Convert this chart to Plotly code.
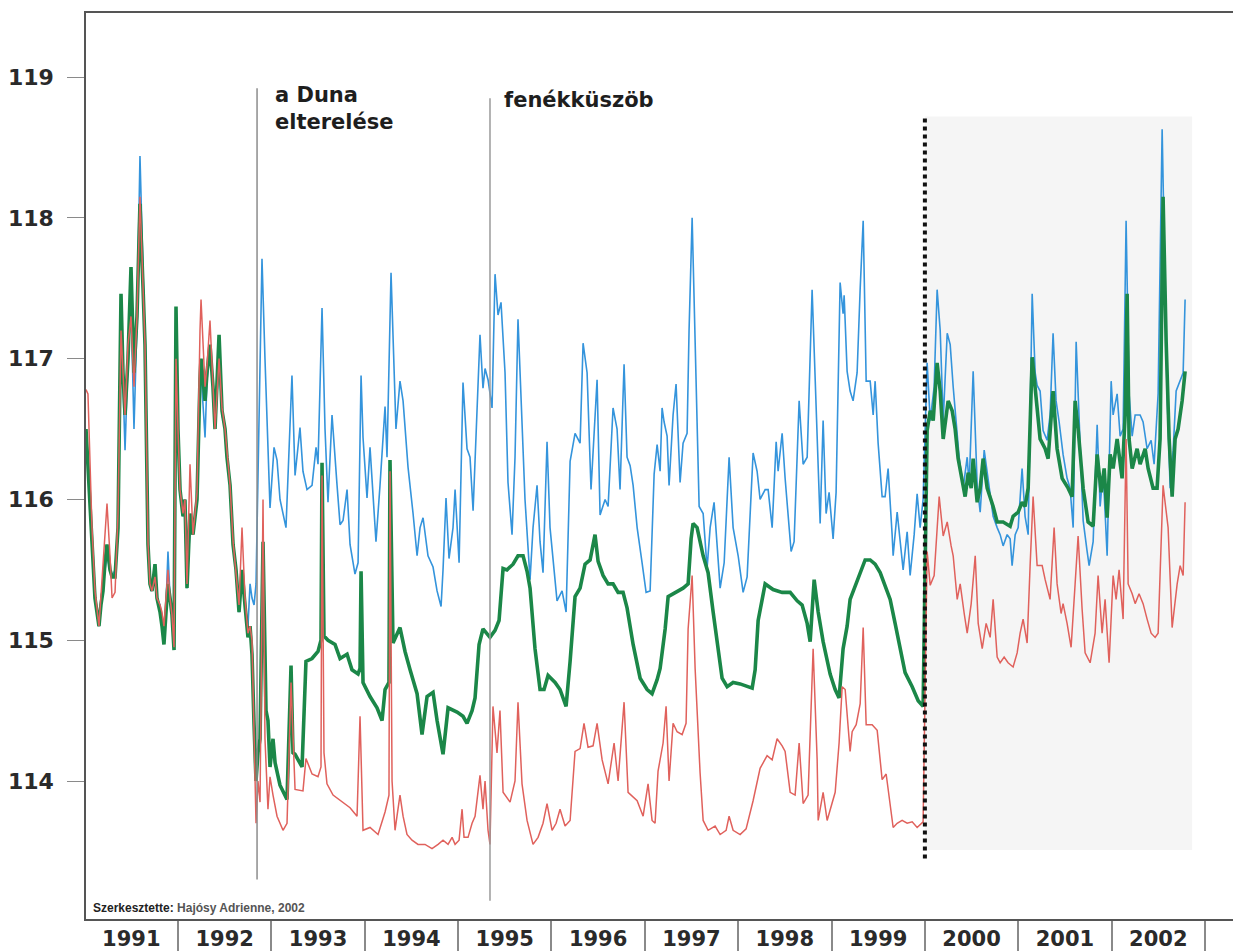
import plotly.graph_objects as go

# ---------------- data (decimal year, water level m a.s.l.) ----------------
years_early = [1991.015, 1991.036, 1991.079, 1991.111, 1991.154, 1991.175, 1991.197, 1991.218, 1991.240, 1991.272,
               1991.294, 1991.326, 1991.358, 1991.390, 1991.411, 1991.433, 1991.465, 1991.497, 1991.529, 1991.561,
               1991.593, 1991.626, 1991.647, 1991.679, 1991.700, 1991.722, 1991.754, 1991.775, 1991.808, 1991.829,
               1991.850, 1991.872, 1991.893, 1991.915, 1991.936, 1991.958, 1991.979, 1992.000, 1992.022, 1992.054,
               1992.075, 1992.097, 1992.129, 1992.161, 1992.182, 1992.204, 1992.236, 1992.247, 1992.290, 1992.311,
               1992.343, 1992.375, 1992.397, 1992.440, 1992.472, 1992.504, 1992.525, 1992.558, 1992.590, 1992.622,
               1992.654, 1992.686, 1992.718, 1992.750, 1992.772, 1992.793, 1992.815, 1992.836]

blue_early = [116.5, 116.3, 115.75, 115.3, 115.1, 115.3, 115.4, 115.5, 115.6, 115.5,
              115.45, 115.5, 115.8, 117.3, 116.8, 116.35, 117.0, 117.4, 116.5, 117.25,
              118.44, 117.6, 117.1, 115.7, 115.4, 115.35, 115.5, 115.3, 115.25, 115.15,
              115.05, 115.25, 115.63, 115.3, 115.18, 114.95, 117.0, 116.5, 116.07, 115.88,
              116.0, 115.37, 115.8, 115.75, 115.9, 116.0, 116.8, 116.9, 116.44, 116.85,
              117.05, 116.8, 116.5, 117.0, 116.6, 116.5, 116.3, 116.1, 115.68, 115.5,
              115.2, 115.45, 115.25, 115.1, 115.4, 115.3, 115.25, 115.4]

green_early = [116.5, 116.2, 115.7, 115.3, 115.1, 115.25, 115.35, 115.55, 115.68, 115.5,
               115.45, 115.45, 115.8, 117.46, 116.9, 116.6, 117.0, 117.65, 116.9, 117.3,
               118.1, 117.5, 117.1, 115.68, 115.4, 115.35, 115.54, 115.3, 115.2, 115.1,
               114.97, 115.2, 115.4, 115.3, 115.18, 114.93, 117.37, 116.5, 116.07, 115.88,
               116.0, 115.37, 115.9, 115.75, 115.9, 116.0, 116.86, 117.0, 116.7, 116.9,
               117.1, 116.8, 116.5, 117.17, 116.63, 116.5, 116.3, 116.1, 115.68, 115.5,
               115.2, 115.5, 115.25, 115.02, 115.1, 114.9, 114.4, 114.0]

red_early = [116.78, 116.75, 115.8, 115.35, 115.1, 115.3, 115.5, 115.7, 115.97, 115.6,
             115.3, 115.34, 115.9, 117.2, 116.9, 116.6, 117.1, 117.3, 116.8, 117.3,
             118.15, 117.5, 117.1, 115.7, 115.4, 115.35, 115.45, 115.3, 115.25, 115.2,
             115.1, 115.3, 115.5, 115.3, 115.18, 114.95, 117.0, 116.5, 116.07, 115.9,
             116.0, 115.4, 116.25, 115.75, 115.9, 116.05, 117.2, 117.42, 116.8, 116.95,
             117.27, 116.85, 116.5, 117.0, 116.65, 116.5, 116.35, 116.1, 115.7, 115.5,
             115.25, 115.8, 115.3, 115.05, 115.1, 115.0, 114.4, 113.7]

blue_late = [
    (1992.857, 116.16), (1992.900, 117.71), (1992.932, 117.0), (1992.954, 116.5), (1992.986, 115.94),
    (1993.029, 116.37), (1993.061, 116.28), (1993.093, 116.0), (1993.157, 115.8), (1993.221, 116.88),
    (1993.254, 116.17), (1993.307, 116.51), (1993.339, 116.2), (1993.382, 116.07), (1993.436, 116.1),
    (1993.479, 116.37), (1993.500, 116.25), (1993.543, 117.36), (1993.575, 116.5), (1993.607, 115.98),
    (1993.650, 116.6), (1993.704, 116.1), (1993.736, 115.82), (1993.768, 115.85), (1993.811, 116.07),
    (1993.843, 115.68), (1993.896, 115.47), (1993.929, 115.55), (1993.961, 116.88), (1993.982, 116.44),
    (1994.025, 116.01), (1994.057, 116.37), (1994.121, 115.7), (1994.164, 116.1), (1994.218, 116.66),
    (1994.239, 116.3), (1994.282, 117.61), (1994.335, 116.5), (1994.378, 116.84), (1994.411, 116.7),
    (1994.464, 116.23), (1994.518, 115.9), (1994.561, 115.6), (1994.593, 115.8), (1994.625, 115.87),
    (1994.678, 115.6), (1994.732, 115.52), (1994.775, 115.35), (1994.818, 115.24), (1994.839, 115.5),
    (1994.871, 116.01), (1994.903, 115.58), (1994.946, 115.8), (1994.968, 116.07), (1995.011, 115.55),
    (1995.053, 116.83), (1995.096, 116.36), (1995.128, 116.3), (1995.161, 115.92), (1995.235, 117.17),
    (1995.267, 116.79), (1995.289, 116.93), (1995.321, 116.85), (1995.364, 116.65), (1995.396, 117.6),
    (1995.428, 117.31), (1995.460, 117.4), (1995.503, 116.9), (1995.535, 116.12), (1995.578, 115.75),
    (1995.610, 116.3), (1995.642, 117.28), (1995.685, 116.53), (1995.717, 116.0), (1995.771, 115.43),
    (1995.803, 115.8), (1995.846, 116.1), (1995.878, 115.7), (1995.910, 115.48), (1995.953, 116.41),
    (1995.985, 115.8), (1996.028, 115.48), (1996.060, 115.28), (1996.114, 115.35), (1996.157, 115.2),
    (1996.200, 116.27), (1996.253, 116.47), (1996.307, 116.4), (1996.339, 117.11), (1996.382, 116.9),
    (1996.424, 116.07), (1996.489, 116.85), (1996.521, 115.89), (1996.575, 116.0), (1996.607, 115.95),
    (1996.660, 116.65), (1996.703, 116.5), (1996.735, 116.07), (1996.778, 116.96), (1996.810, 116.3),
    (1996.843, 116.24), (1996.875, 116.1), (1996.918, 115.8), (1996.971, 115.55), (1997.014, 115.34),
    (1997.057, 115.35), (1997.100, 116.18), (1997.132, 116.39), (1997.164, 116.2), (1997.185, 116.65),
    (1997.207, 116.55), (1997.239, 116.45), (1997.260, 116.1), (1997.303, 116.6), (1997.335, 116.82),
    (1997.378, 116.12), (1997.410, 116.4), (1997.453, 116.47), (1997.474, 117.2), (1997.507, 118.0),
    (1997.539, 117.2), (1997.582, 115.95), (1997.625, 115.9), (1997.667, 115.51), (1997.700, 115.8),
    (1997.742, 115.98), (1997.807, 115.37), (1997.850, 115.55), (1997.903, 116.3), (1997.946, 115.8),
    (1998.000, 115.6), (1998.053, 115.34), (1998.096, 115.45), (1998.160, 116.33), (1998.203, 116.2),
    (1998.235, 116.0), (1998.289, 116.07), (1998.321, 116.07), (1998.364, 115.8), (1998.407, 116.41),
    (1998.428, 116.2), (1998.471, 116.47), (1998.503, 116.15), (1998.567, 115.63), (1998.599, 115.7),
    (1998.653, 116.7), (1998.696, 116.25), (1998.739, 116.3), (1998.792, 117.49), (1998.824, 116.9),
    (1998.878, 115.83), (1998.910, 116.56), (1998.942, 115.9), (1998.974, 116.05), (1999.017, 115.72),
    (1999.049, 116.05), (1999.092, 117.54), (1999.124, 117.32), (1999.135, 117.45), (1999.167, 116.91),
    (1999.199, 116.77), (1999.231, 116.7), (1999.274, 116.9), (1999.307, 117.5), (1999.339, 117.98),
    (1999.371, 116.84), (1999.414, 116.84), (1999.446, 116.6), (1999.467, 116.84), (1999.499, 116.4),
    (1999.542, 116.02), (1999.574, 116.02), (1999.606, 116.22), (1999.649, 115.75), (1999.660, 115.6),
    (1999.703, 115.91), (1999.735, 115.7), (1999.767, 115.5), (1999.810, 115.77), (1999.842, 115.46),
    (1999.885, 115.75), (1999.917, 116.04), (1999.949, 115.8), (1999.981, 116.0), (2000.024, 116.97),
    (2000.057, 116.56), (2000.099, 116.8), (2000.131, 117.49), (2000.164, 117.2), (2000.196, 116.56),
    (2000.239, 117.18), (2000.271, 117.1), (2000.303, 116.8), (2000.346, 116.43), (2000.367, 116.3),
    (2000.410, 116.08), (2000.453, 116.3), (2000.474, 116.1), (2000.517, 116.91), (2000.560, 116.1),
    (2000.592, 115.91), (2000.635, 116.35), (2000.678, 116.15), (2000.731, 115.88), (2000.774, 115.8),
    (2000.806, 115.75), (2000.838, 115.67), (2000.881, 115.75), (2000.913, 115.72), (2000.934, 115.53),
    (2000.967, 115.75), (2000.999, 115.8), (2001.041, 116.22), (2001.073, 115.88), (2001.106, 115.75),
    (2001.149, 117.46), (2001.181, 116.9), (2001.202, 116.81), (2001.234, 116.77), (2001.266, 116.49),
    (2001.309, 116.42), (2001.341, 116.6), (2001.373, 117.18), (2001.405, 116.7), (2001.438, 116.55),
    (2001.480, 116.32), (2001.523, 116.15), (2001.555, 116.08), (2001.588, 115.8), (2001.620, 117.12),
    (2001.662, 116.4), (2001.695, 115.85), (2001.738, 115.63), (2001.759, 115.53), (2001.802, 115.7),
    (2001.845, 116.53), (2001.877, 115.95), (2001.909, 116.2), (2001.952, 115.6), (2001.995, 116.84),
    (2002.016, 116.6), (2002.059, 116.75), (2002.091, 116.45), (2002.123, 116.5), (2002.155, 117.98),
    (2002.187, 116.75), (2002.220, 116.45), (2002.252, 116.6), (2002.305, 116.6), (2002.337, 116.55),
    (2002.380, 116.36), (2002.423, 116.42), (2002.455, 116.25), (2002.498, 116.75), (2002.541, 118.63),
    (2002.573, 117.5), (2002.594, 116.75), (2002.627, 116.08), (2002.659, 116.35), (2002.691, 116.77),
    (2002.734, 116.85), (2002.766, 116.9), (2002.787, 117.42),
]

green_late = [
    (1992.857, 114.2), (1992.879, 114.3), (1992.911, 115.7), (1992.943, 114.5), (1992.964, 114.43),
    (1992.986, 114.1), (1993.018, 114.3), (1993.040, 114.13), (1993.093, 113.97), (1993.168, 113.87),
    (1993.211, 114.82), (1993.232, 114.2), (1993.254, 114.19), (1993.329, 114.1), (1993.371, 114.85),
    (1993.436, 114.87), (1993.500, 114.92), (1993.532, 115.0), (1993.543, 116.26), (1993.564, 115.03),
    (1993.607, 115.0), (1993.682, 114.97), (1993.736, 114.87), (1993.811, 114.9), (1993.864, 114.79),
    (1993.929, 114.76), (1993.950, 114.8), (1993.961, 115.49), (1993.982, 114.7), (1994.057, 114.6),
    (1994.132, 114.52), (1994.186, 114.43), (1994.218, 114.65), (1994.260, 114.7), (1994.271, 116.28),
    (1994.303, 114.98), (1994.378, 115.09), (1994.432, 114.92), (1994.486, 114.79), (1994.561, 114.62),
    (1994.614, 114.33), (1994.668, 114.6), (1994.732, 114.63), (1994.775, 114.43), (1994.839, 114.19),
    (1994.893, 114.52), (1994.989, 114.49), (1995.053, 114.46), (1995.096, 114.41), (1995.150, 114.5),
    (1995.182, 114.59), (1995.225, 114.97), (1995.267, 115.08), (1995.342, 115.02), (1995.396, 115.07),
    (1995.439, 115.14), (1995.482, 115.51), (1995.524, 115.5), (1995.589, 115.54), (1995.642, 115.6),
    (1995.696, 115.6), (1995.739, 115.49), (1995.771, 115.37), (1995.824, 114.94), (1995.878, 114.65),
    (1995.921, 114.65), (1995.964, 114.75), (1996.039, 114.7), (1996.092, 114.65), (1996.157, 114.53),
    (1996.200, 114.85), (1996.253, 115.31), (1996.307, 115.37), (1996.360, 115.54), (1996.414, 115.57),
    (1996.467, 115.75), (1996.500, 115.56), (1996.553, 115.46), (1996.607, 115.4), (1996.660, 115.4),
    (1996.714, 115.34), (1996.767, 115.34), (1996.810, 115.23), (1996.875, 114.97), (1996.950, 114.73),
    (1997.025, 114.65), (1997.078, 114.62), (1997.132, 114.72), (1997.164, 114.8), (1997.218, 115.08),
    (1997.250, 115.31), (1997.325, 115.34), (1997.410, 115.37), (1997.464, 115.4), (1997.496, 115.72),
    (1997.517, 115.83), (1997.560, 115.8), (1997.625, 115.6), (1997.678, 115.48), (1997.732, 115.2),
    (1997.785, 114.94), (1997.828, 114.73), (1997.882, 114.67), (1997.946, 114.7), (1998.021, 114.69),
    (1998.096, 114.67), (1998.150, 114.66), (1998.182, 114.79), (1998.214, 115.14), (1998.289, 115.4),
    (1998.374, 115.36), (1998.471, 115.34), (1998.557, 115.34), (1998.632, 115.28), (1998.685, 115.25),
    (1998.739, 115.12), (1998.771, 114.99), (1998.814, 115.43), (1998.857, 115.2), (1998.910, 114.99),
    (1998.985, 114.76), (1999.039, 114.65), (1999.081, 114.59), (1999.124, 114.94), (1999.167, 115.1),
    (1999.199, 115.29), (1999.253, 115.38), (1999.307, 115.47), (1999.360, 115.57), (1999.414, 115.57),
    (1999.467, 115.54), (1999.521, 115.48), (1999.574, 115.39), (1999.628, 115.29), (1999.681, 115.12),
    (1999.735, 114.94), (1999.788, 114.77), (1999.864, 114.67), (1999.928, 114.57), (1999.981, 114.53),
    (2000.024, 116.49), (2000.057, 116.63), (2000.089, 116.56), (2000.131, 116.97), (2000.164, 116.77),
    (2000.196, 116.43), (2000.249, 116.7), (2000.292, 116.63), (2000.324, 116.5), (2000.356, 116.29),
    (2000.399, 116.12), (2000.431, 116.02), (2000.464, 116.19), (2000.496, 116.08), (2000.517, 116.29),
    (2000.560, 115.98), (2000.592, 116.08), (2000.624, 116.29), (2000.667, 116.08), (2000.731, 115.95),
    (2000.774, 115.84), (2000.838, 115.84), (2000.913, 115.81), (2000.945, 115.88), (2000.999, 115.91),
    (2001.041, 115.98), (2001.073, 115.95), (2001.106, 116.08), (2001.149, 117.01), (2001.181, 116.77),
    (2001.202, 116.63), (2001.234, 116.43), (2001.288, 116.36), (2001.320, 116.29), (2001.373, 116.77),
    (2001.416, 116.36), (2001.470, 116.15), (2001.502, 116.12), (2001.534, 116.08), (2001.577, 116.02),
    (2001.609, 116.7), (2001.641, 116.5), (2001.695, 116.08), (2001.748, 115.84), (2001.802, 115.81),
    (2001.845, 116.32), (2001.888, 116.05), (2001.920, 116.22), (2001.952, 115.87), (2001.984, 116.32),
    (2002.016, 116.22), (2002.059, 116.43), (2002.112, 116.15), (2002.145, 116.6), (2002.166, 117.46),
    (2002.187, 116.43), (2002.220, 116.22), (2002.273, 116.36), (2002.305, 116.25), (2002.359, 116.36),
    (2002.391, 116.22), (2002.444, 116.08), (2002.487, 116.08), (2002.519, 116.43), (2002.551, 118.15),
    (2002.584, 117.12), (2002.616, 116.43), (2002.648, 116.02), (2002.680, 116.43), (2002.712, 116.5),
    (2002.755, 116.7), (2002.787, 116.91),
]

red_late = [
    (1992.857, 114.0), (1992.879, 113.85), (1992.911, 116.0), (1992.932, 114.3), (1992.964, 113.8),
    (1992.986, 114.03), (1993.018, 113.9), (1993.061, 113.75), (1993.125, 113.65), (1993.168, 113.7),
    (1993.211, 114.7), (1993.254, 113.94), (1993.339, 113.93), (1993.371, 114.16), (1993.436, 114.05),
    (1993.500, 114.03), (1993.532, 114.1), (1993.543, 116.17), (1993.564, 114.2), (1993.596, 113.98),
    (1993.661, 113.9), (1993.757, 113.85), (1993.843, 113.81), (1993.918, 113.75), (1993.950, 114.46),
    (1993.982, 113.65), (1994.057, 113.67), (1994.143, 113.62), (1994.218, 113.78), (1994.260, 113.9),
    (1994.271, 116.2), (1994.293, 114.0), (1994.325, 113.65), (1994.346, 113.75), (1994.378, 113.9),
    (1994.411, 113.75), (1994.453, 113.62), (1994.507, 113.58), (1994.571, 113.55), (1994.646, 113.55),
    (1994.721, 113.52), (1994.786, 113.55), (1994.839, 113.58), (1994.893, 113.55), (1994.936, 113.6),
    (1994.968, 113.55), (1995.011, 113.58), (1995.043, 113.8), (1995.064, 113.6), (1995.107, 113.6),
    (1995.150, 113.7), (1995.182, 113.75), (1995.235, 114.04), (1995.267, 113.8), (1995.289, 114.0),
    (1995.321, 113.65), (1995.342, 113.55), (1995.374, 114.53), (1995.417, 114.2), (1995.449, 114.5),
    (1995.482, 113.92), (1995.557, 113.85), (1995.610, 114.0), (1995.642, 114.56), (1995.685, 113.98),
    (1995.739, 113.72), (1995.803, 113.55), (1995.857, 113.6), (1995.910, 113.7), (1995.953, 113.84),
    (1996.007, 113.65), (1996.050, 113.7), (1996.092, 113.8), (1996.146, 113.68), (1996.200, 113.72),
    (1996.253, 114.21), (1996.307, 114.23), (1996.349, 114.41), (1996.392, 114.24), (1996.446, 114.25),
    (1996.489, 114.41), (1996.543, 114.15), (1996.607, 113.98), (1996.671, 114.27), (1996.714, 114.0),
    (1996.778, 114.56), (1996.821, 113.92), (1996.918, 113.86), (1996.982, 113.75), (1997.035, 113.98),
    (1997.078, 113.72), (1997.110, 113.7), (1997.142, 114.07), (1997.196, 114.27), (1997.228, 114.53),
    (1997.260, 114.0), (1997.303, 114.41), (1997.346, 114.35), (1997.400, 114.33), (1997.442, 114.41),
    (1997.464, 115.08), (1997.507, 115.46), (1997.539, 114.8), (1997.592, 114.06), (1997.625, 113.72),
    (1997.678, 113.65), (1997.753, 113.68), (1997.807, 113.62), (1997.871, 113.65), (1997.903, 113.75),
    (1997.946, 113.65), (1998.021, 113.62), (1998.085, 113.66), (1998.160, 113.86), (1998.235, 114.09),
    (1998.310, 114.18), (1998.364, 114.15), (1998.417, 114.3), (1998.471, 114.25), (1998.503, 114.21),
    (1998.557, 113.92), (1998.610, 113.9), (1998.653, 114.27), (1998.696, 113.84), (1998.749, 113.9),
    (1998.803, 114.94), (1998.846, 114.15), (1998.857, 113.72), (1998.910, 113.92), (1998.953, 113.72),
    (1999.039, 113.92), (1999.081, 114.27), (1999.114, 114.67), (1999.146, 114.65), (1999.199, 114.21),
    (1999.221, 114.35), (1999.264, 114.4), (1999.307, 114.55), (1999.339, 115.09), (1999.371, 114.4),
    (1999.435, 114.4), (1999.489, 114.36), (1999.542, 114.01), (1999.585, 114.05), (1999.617, 113.88),
    (1999.660, 113.67), (1999.703, 113.7), (1999.756, 113.72), (1999.810, 113.7), (1999.864, 113.71),
    (1999.917, 113.67), (1999.981, 113.71), (2000.024, 115.63), (2000.057, 115.39), (2000.099, 115.46),
    (2000.153, 116.02), (2000.196, 115.74), (2000.239, 115.84), (2000.281, 115.67), (2000.303, 115.6),
    (2000.346, 115.29), (2000.378, 115.4), (2000.421, 115.19), (2000.453, 115.05), (2000.496, 115.26),
    (2000.539, 115.6), (2000.571, 115.12), (2000.614, 114.94), (2000.656, 115.12), (2000.699, 115.02),
    (2000.731, 115.29), (2000.774, 114.88), (2000.806, 114.84), (2000.849, 114.88), (2000.891, 114.84),
    (2000.945, 114.81), (2000.988, 114.91), (2001.020, 115.05), (2001.052, 115.15), (2001.095, 114.98),
    (2001.127, 115.53), (2001.159, 116.02), (2001.202, 115.53), (2001.256, 115.53), (2001.288, 115.43),
    (2001.341, 115.29), (2001.384, 115.8), (2001.416, 115.4), (2001.459, 115.19), (2001.480, 115.26),
    (2001.523, 115.12), (2001.566, 114.95), (2001.609, 115.4), (2001.641, 115.74), (2001.684, 115.22),
    (2001.716, 114.91), (2001.770, 114.84), (2001.823, 115.05), (2001.855, 115.46), (2001.898, 115.05),
    (2001.930, 115.29), (2001.973, 114.84), (2002.016, 115.46), (2002.048, 115.29), (2002.080, 115.5),
    (2002.123, 115.15), (2002.155, 116.43), (2002.177, 115.4), (2002.220, 115.33), (2002.252, 115.26),
    (2002.294, 115.33), (2002.337, 115.26), (2002.380, 115.15), (2002.423, 115.05), (2002.466, 115.02),
    (2002.498, 115.05), (2002.551, 116.1), (2002.605, 115.8), (2002.648, 115.09), (2002.702, 115.4),
    (2002.734, 115.53), (2002.766, 115.46), (2002.787, 115.98),
]

year_labels = [str(y) for y in range(1991, 2003)]
level_ticks = [114, 115, 116, 117, 118, 119]

diversion_year = 1992.847     # a Duna elterelése
weir_year = 1995.342          # fenékküszöb
period_start = 2000.0
period_end = 2002.862

# ---------------- figure ----------------
def build(early, late):
    xs = list(years_early) + [p[0] for p in late]
    ys = list(early) + [p[1] for p in late]
    return xs, ys

fig = go.Figure()
for early, late, color, width in [
    (blue_early, blue_late, "#3494dc", 1.6),
    (green_early, green_late, "#1b8748", 3.6),
    (red_early, red_late, "#e0615c", 1.5),
]:
    xs, ys = build(early, late)
    fig.add_trace(go.Scatter(x=xs, y=ys, mode="lines",
                             line=dict(color=color, width=width),
                             showlegend=False, hoverinfo="skip"))

# shaded recent period
fig.add_shape(type="rect", xref="x", yref="y", x0=period_start, x1=period_end,
              y0=113.51, y1=118.72, fillcolor="#f5f5f5", line=dict(width=0), layer="below")
# event lines
fig.add_shape(type="line", xref="x", yref="y", x0=diversion_year, x1=diversion_year,
              y0=113.30, y1=118.92, line=dict(color="#8c8c8c", width=1.5))
fig.add_shape(type="line", xref="x", yref="y", x0=weir_year, x1=weir_year,
              y0=113.15, y1=118.85, line=dict(color="#9a9a9a", width=1.5))
fig.add_shape(type="line", xref="x", yref="y", x0=period_start, x1=period_start,
              y0=113.45, y1=118.72, line=dict(color="#111111", width=4, dash="dot"))

bold = dict(family="DejaVu Sans", size=21, weight="bold", color="#1e1e1e")
fig.add_annotation(x=1993.018, y=118.97, xref="x", yref="y", text="a Duna<br>elterelése",
                   xanchor="left", yanchor="top", align="left", showarrow=False, font=bold)
fig.add_annotation(x=1995.472, y=118.835, xref="x", yref="y", text="fenékküszöb",
                   xanchor="left", yanchor="middle", showarrow=False, font=bold)
fig.add_annotation(x=1991.065, y=113.095, xref="x", yref="y",
                   text="Szerkesztette: <span style='color:#555555'>Hajósy Adrienne, 2002</span>",
                   xanchor="left", yanchor="middle", showarrow=False,
                   font=dict(family="Liberation Sans", size=12, weight="bold", color="#222222"))

fig.update_layout(
    width=1233, height=951,
    margin=dict(l=86, r=0, t=13, b=32),
    paper_bgcolor="white", plot_bgcolor="white",
    showlegend=False,
)
fig.update_xaxes(
    range=[1991.015, 2003.30], showgrid=False, zeroline=False,
    showline=True, linecolor="#555555", linewidth=1.5, mirror=True,
    tickmode="array", tickvals=[y + 0.5 for y in range(1991, 2003)], ticktext=year_labels,
    ticks="", tickfont=dict(family="DejaVu Sans", size=21, weight="bold", color="#2a2a2a"),
    ticklabelstandoff=0,
    minor=dict(ticks="outside", ticklen=32, tickwidth=1.5, tickcolor="#8a8a8a",
               tickmode="array", tickvals=list(range(1992, 2004)), showgrid=False),
)
fig.update_yaxes(
    range=[113.02, 119.455], showgrid=False, zeroline=False,
    showline=True, linecolor="#555555", linewidth=1.5,
    tickmode="array", tickvals=level_ticks, ticks="outside", ticklen=17,
    tickwidth=1.2, tickcolor="#8a8a8a",
    tickfont=dict(family="DejaVu Sans", size=22, weight="bold", color="#2a2a2a"),
    ticklabelstandoff=9,
)

fig.write_html("out.html")
